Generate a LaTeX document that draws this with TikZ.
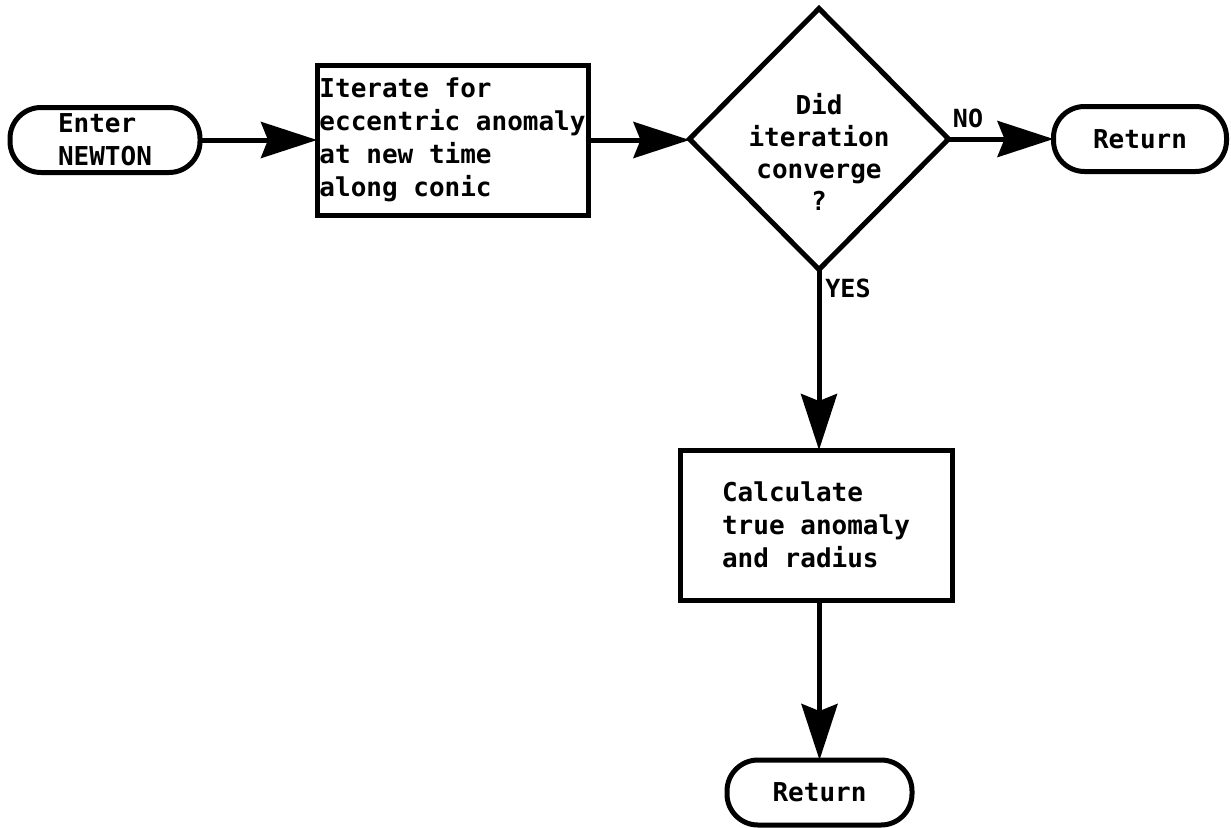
\documentclass[tikz,border=0pt]{standalone}
\usepackage{fontspec}
\setmonofont{DejaVu Sans Mono}
\usetikzlibrary{shapes.geometric,arrows.meta}
\begin{document}
\begin{tikzpicture}[x=1pt,y=-1pt,
  every node/.style={font=\ttfamily\bfseries\fontsize{26}{33}\selectfont, inner sep=0pt, outer sep=0pt},
  terminal/.style={draw, line width=5pt, rounded corners=31pt, minimum height=65pt},
  process/.style={draw, line width=5pt, align=left},
  decision/.style={draw, diamond, line width=5pt, minimum width=259pt, minimum height=261pt},
  flow/.style={line width=5pt, -{Stealth[length=56pt,width=36pt,inset=7pt]}},
  tag/.style={font=\ttfamily\bfseries\fontsize{25}{28}\selectfont}
]
\useasboundingbox (0,0) rectangle (1231,827);

% nodes
\node[terminal, minimum width=190pt, align=left] (enter) at (105,140) {Enter\\NEWTON};
\node[process, minimum width=271pt, minimum height=150pt] (iter) at (452.5,140)
  {Iterate for\\eccentric anomaly\\at new time\\along conic};
\node[decision] (dec) at (819,139) {};
\node[align=center, font=\ttfamily\bfseries\fontsize{26}{32}\selectfont] (dectext) at (819,152)
  {Did\\iteration\\converge\\?};
\node[terminal, minimum width=173pt] (ret1) at (1140,139) {Return};
\node[process, minimum width=272pt, minimum height=150pt] (calc) at (816,525)
  {Calculate\\true anomaly\\and radius};
\node[terminal, minimum width=185pt] (ret2) at (819.5,792.5) {Return};

% branch labels
\node[tag] (no) at (968,118) {NO};
\node[tag] (yes) at (848,288) {YES};

% connectors
\draw[flow] (enter.east) -- (enter.east -| iter.west);
\draw[flow] (iter.east) -- (iter.east -| dec.west);
\draw[flow] (dec.east) -- (dec.east -| ret1.west);
\draw[flow] (dec.south) -- (dec.south |- calc.north);
\draw[flow] (ret2.north |- calc.south) -- (ret2.north);
\end{tikzpicture}
\end{document}
